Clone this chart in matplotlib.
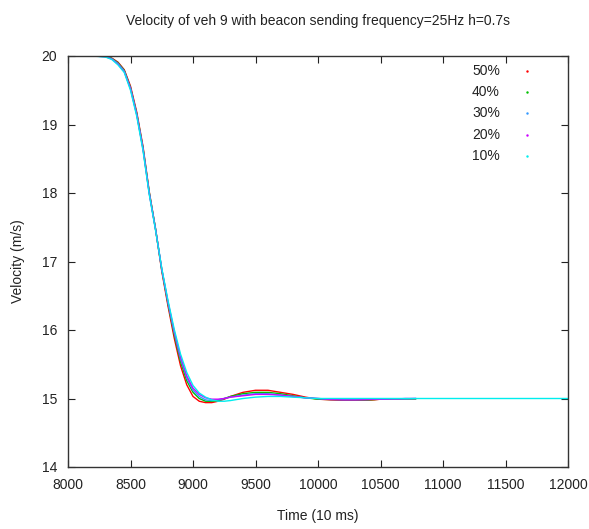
import matplotlib
matplotlib.use("Agg")
import matplotlib.pyplot as plt

plt.rcParams['font.family'] = ['Liberation Sans Narrow', 'Liberation Sans', 'DejaVu Sans']

title = "Velocity of veh 9 with beacon sending frequency=25Hz h=0.7s"
labels = ["50%", "40%", "30%", "20%", "10%"]
colors = ["#ff0000", "#00c000", "#3399ff", "#cc00ff", "#00eeee"]

times = [8200, 8300, 8350, 8400, 8450, 8500, 8550, 8600, 8650, 8700, 8750, 8800, 8850,
         8900, 8950, 9000, 9050, 9100, 9150, 9200, 9250, 9300, 9400, 9500, 9600,
         9700, 9800, 9900, 10000, 10100, 10200, 10300, 10400, 10450, 10500, 10600,
         10650, 10700, 10780]
times_10 = times + [11000, 12000]

v50 = [20.00, 19.995, 19.97, 19.91, 19.80, 19.56, 19.18, 18.68, 18.02, 17.48, 16.86, 16.35, 15.88,
       15.48, 15.20, 15.03, 14.96, 14.94, 14.94, 14.96, 14.99, 15.03, 15.09, 15.12, 15.12,
       15.09, 15.06, 15.02, 14.99, 14.98, 14.975, 14.975, 14.975, 14.98, 14.99, 14.995,
       14.995, 14.995, 14.995]
v40 = [20.00, 19.995, 19.965, 19.90, 19.79, 19.54, 19.16, 18.66, 18.01, 17.48, 16.88, 16.38, 15.93,
       15.54, 15.26, 15.09, 15.00, 14.96, 14.96, 14.97, 15.00, 15.03, 15.07, 15.09, 15.09,
       15.07, 15.04, 15.01, 14.99, 14.985, 14.98, 14.98, 14.98, 14.985, 14.99, 14.995,
       14.995, 14.995, 14.995]
v30 = [20.00, 19.99, 19.96, 19.89, 19.78, 19.53, 19.15, 18.65, 18.00, 17.48, 16.89, 16.40, 15.96,
       15.58, 15.30, 15.12, 15.03, 14.98, 14.97, 14.98, 15.00, 15.02, 15.05, 15.07, 15.07,
       15.05, 15.03, 15.01, 15.00, 14.99, 14.985, 14.985, 14.985, 14.99, 14.99, 14.995,
       14.995, 14.995, 15.00]
v20 = [20.00, 19.99, 19.955, 19.88, 19.77, 19.52, 19.14, 18.64, 17.99, 17.47, 16.89, 16.41, 15.98,
       15.61, 15.33, 15.15, 15.06, 15.01, 14.99, 14.99, 15.00, 15.02, 15.04, 15.06, 15.06,
       15.05, 15.03, 15.01, 15.00, 14.985, 14.98, 14.98, 14.985, 14.99, 14.99, 14.995,
       14.995, 15.00, 15.00]
v10 = [20.00, 19.985, 19.95, 19.87, 19.76, 19.50, 19.12, 18.62, 17.98, 17.46, 16.90, 16.43, 16.01,
       15.65, 15.38, 15.19, 15.08, 15.02, 14.98, 14.96, 14.96, 14.97, 15.00, 15.02, 15.03,
       15.03, 15.02, 15.01, 15.00, 15.00, 15.00, 15.00, 15.00, 15.00, 15.00, 15.00,
       15.00, 15.00, 15.00, 15.00, 15.00]

series = [(times, v50), (times, v40), (times, v30), (times, v20), (times_10, v10)]

fig = plt.figure(figsize=(5.89, 5.29), dpi=100)
ax = fig.add_axes([68 / 589, 1 - 467 / 529, 500 / 589, 411 / 529])

for (t, v), c in zip(series, colors):
    ax.plot(t, v, color=c, lw=1.0)

ax.set_xlim(8000, 12000)
ax.set_ylim(14, 20)
ax.set_xticks(range(8000, 12001, 500))
ax.set_yticks(range(14, 21))
ax.tick_params(direction="in", length=5, top=True, right=True, labelsize=10,
               pad=8, colors="#222222")
for s in ax.spines.values():
    s.set_color("#333333")
    s.set_linewidth(1.0)

ax.set_title(title, fontsize=10, pad=22, color="#222222")
ax.set_xlabel("Time (10 ms)", fontsize=10, labelpad=12, color="#222222")
ax.set_ylabel("Velocity (m/s)", fontsize=10, labelpad=12, color="#222222")

# gnuplot-style key
key_y = [0.9635, 0.9124, 0.8613, 0.8078, 0.7567]
for lab, c, ky in zip(labels, colors, key_y):
    ax.text(0.864, ky, lab, transform=ax.transAxes, ha="right", va="center",
            fontsize=10, color="#222222")
    ax.plot([0.918], [ky], ".", color=c, markersize=1.5, transform=ax.transAxes)

fig.savefig("out.png", dpi=100)
